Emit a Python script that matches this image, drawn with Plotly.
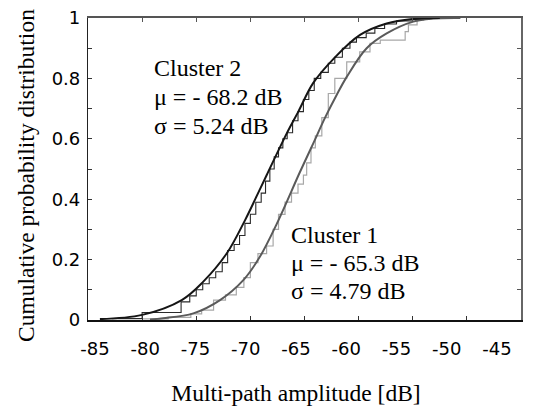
import plotly.graph_objects as go

# ---- data ----
# fitted CDF curves (smooth)
fit2_x = [-83.9, -80.0, -76.34, -74.35, -72.19, -70.5, -69.42, -68.49, -66.64, -65.57,
          -64.19, -62.34, -59.87, -57.41, -54.95, -52.5]
fit2_p = [0.003, 0.017, 0.066, 0.127, 0.22, 0.33, 0.41, 0.48, 0.618, 0.69,
          0.785, 0.864, 0.944, 0.982, 0.997, 1.0]

fit1_x = [-79.27, -78.07, -75.27, -72.8, -70.65, -69.11, -67.54, -65.42, -64.19, -63.1,
          -62.03, -61.1, -59.26, -57.41, -54.95, -53.13, -50.6]
fit1_p = [0.002, 0.006, 0.022, 0.066, 0.132, 0.21, 0.32, 0.49, 0.585, 0.67,
          0.745, 0.805, 0.9, 0.949, 0.988, 0.998, 1.0]

# empirical CDFs (step curves)
ecdf2_x = [-82.8, -80.0, -76.4, -75.6, -75.0, -74.4, -73.8, -73.2, -72.6, -72.1,
           -71.5, -71.0, -70.5, -70.0, -69.5, -69.0, -68.6, -68.2, -67.8, -67.4,
           -67.0, -66.6, -66.1, -65.6, -65.1, -64.6, -64.1, -63.5, -62.8, -62.2,
           -61.5, -60.8, -60.2, -59.3, -58.5, -57.6, -56.5, -55.0, -53.5]
ecdf2_p = [0.005, 0.025, 0.06, 0.08, 0.10, 0.12, 0.14, 0.16, 0.19, 0.23,
           0.25, 0.28, 0.32, 0.35, 0.39, 0.42, 0.46, 0.50, 0.54, 0.57,
           0.60, 0.62, 0.66, 0.69, 0.73, 0.76, 0.80, 0.82, 0.85, 0.87,
           0.90, 0.92, 0.935, 0.95, 0.965, 0.98, 0.99, 0.995, 1.0]

ecdf1_x = [-82.8, -77.6, -75.5, -74.5, -73.4, -72.3, -71.3, -70.6, -70.0, -69.3,
           -68.5, -67.9, -67.4, -66.8, -66.2, -65.6, -65.1, -64.8, -64.4, -64.0,
           -63.4, -62.8, -62.2, -61.1, -59.9, -58.95, -58.0, -55.7, -55.4, -54.6, -54.0]
ecdf1_p = [0.004, 0.009, 0.02, 0.033, 0.066, 0.083, 0.108, 0.14, 0.19, 0.22,
           0.245, 0.30, 0.35, 0.39, 0.42, 0.45, 0.48, 0.52, 0.57, 0.61,
           0.67, 0.75, 0.80, 0.855, 0.888, 0.916, 0.927, 0.955, 0.977, 0.993, 1.0]

x_ticks = [-85, -80, -75, -70, -65, -60, -55, -50, -45]
x_ticktext = ["-85", "-80", "-75", "-70", "-65", "-60", "-55", "-50", "-45"]
y_ticks = [0, 0.1, 0.2, 0.3, 0.4, 0.5, 0.6, 0.7, 0.8, 0.9, 1.0]
y_ticktext = ["0", "", "0.2", "", "0.4", "", "0.6", "", "0.8", "", "1"]

cluster2_lines = ["Cluster 2", "μ = - 68.2 dB", "σ = 5.24 dB"]
cluster1_lines = ["Cluster 1", "μ = - 65.3 dB", "σ = 4.79 dB"]
x_title = "Multi-path amplitude [dB]"
y_title = "Cumulative probability distribution"

SERIF = "Liberation Serif, Times New Roman, serif"
SANS = "DejaVu Sans, sans-serif"

fig = go.Figure()
fig.add_trace(go.Scatter(x=ecdf1_x, y=ecdf1_p, mode="lines", line=dict(color="#a8a8a8", width=1.2, shape="hv"),
                         showlegend=False, hoverinfo="skip"))
fig.add_trace(go.Scatter(x=ecdf2_x, y=ecdf2_p, mode="lines", line=dict(color="#2a2a2a", width=1.1, shape="hv"),
                         showlegend=False, hoverinfo="skip"))
fig.add_trace(go.Scatter(x=fit1_x, y=fit1_p, mode="lines", line=dict(color="#5a5a5a", width=2, shape="spline"),
                         showlegend=False, hoverinfo="skip"))
fig.add_trace(go.Scatter(x=fit2_x, y=fit2_p, mode="lines", line=dict(color="#151515", width=2, shape="spline"),
                         showlegend=False, hoverinfo="skip"))
# carriers for the label axis and the frame axes
fig.add_trace(go.Scatter(x=[None], y=[None], xaxis="x2", yaxis="y", showlegend=False, hoverinfo="skip"))
fig.add_trace(go.Scatter(x=[None], y=[None], xaxis="x3", yaxis="y2", showlegend=False, hoverinfo="skip"))

fig.update_layout(
    width=542, height=406,
    margin=dict(l=88, r=21, t=18, b=86),
    paper_bgcolor="white", plot_bgcolor="rgba(0,0,0,0)",
    xaxis=dict(range=[-85, -45], tickvals=x_ticks, ticks="inside", ticklen=4, tickcolor="#333",
               showticklabels=False, showgrid=False, zeroline=False, automargin=False,
               showline=True, linecolor="#111", linewidth=2, domain=[0, 1]),
    xaxis2=dict(range=[-85, -45], tickvals=x_ticks, ticktext=x_ticktext, ticks="", showgrid=False,
                zeroline=False, showline=False, anchor="free", position=0, automargin=False,
                domain=[0.0162, 0.9446],
                tickfont=dict(family=SANS, size=18, color="black"), ticklabelstandoff=16,
                title=dict(text=x_title, font=dict(family=SERIF, size=23.5, color="black"),
                           standoff=30)),
    xaxis3=dict(range=[-85, -45], tickvals=x_ticks, ticks="inside", ticklen=4, tickcolor="#555",
                showticklabels=False, showgrid=False, zeroline=False, side="top", overlaying="x",
                anchor="y2", showline=True, linecolor="#555", linewidth=1.5, automargin=False),
    yaxis=dict(range=[0, 1], tickvals=y_ticks, ticktext=y_ticktext, ticks="inside", ticklen=4,
               tickcolor="#333", showgrid=False, zeroline=False, showline=True, linecolor="#222",
               linewidth=1.2, tickfont=dict(family=SANS, size=18, color="black"),
               ticklabelstandoff=3, automargin=False),
    yaxis2=dict(range=[0, 1], tickvals=y_ticks, ticks="inside", ticklen=4, tickcolor="#555",
                showticklabels=False, showgrid=False, zeroline=False, side="right", overlaying="y",
                anchor="x3", showline=True, linecolor="#666", linewidth=1.5, automargin=False),
)

# y-axis title (placed as in the reference, slightly below the plot centre)
fig.add_annotation(text=y_title, xref="paper", yref="paper", x=(26 - 88) / 433, y=(320 - 176) / 302,
                   xanchor="center", yanchor="middle", textangle=-90, showarrow=False,
                   font=dict(family=SERIF, size=23.5, color="black"))

line_y2 = [70, 99, 128]
line_y1 = [235, 263, 291]
for txt, py in zip(cluster2_lines, line_y2):
    fig.add_annotation(text=txt, xref="paper", yref="paper", x=(152 - 88) / 433, y=(320 - py + 2) / 302,
                       xanchor="left", yanchor="middle", showarrow=False,
                       font=dict(family=SERIF, size=24, color="black"))
for txt, py in zip(cluster1_lines, line_y1):
    fig.add_annotation(text=txt, xref="paper", yref="paper", x=(289 - 88) / 433, y=(320 - py) / 302,
                       xanchor="left", yanchor="middle", showarrow=False,
                       font=dict(family=SERIF, size=24, color="black"))

fig.write_html("out.html")
